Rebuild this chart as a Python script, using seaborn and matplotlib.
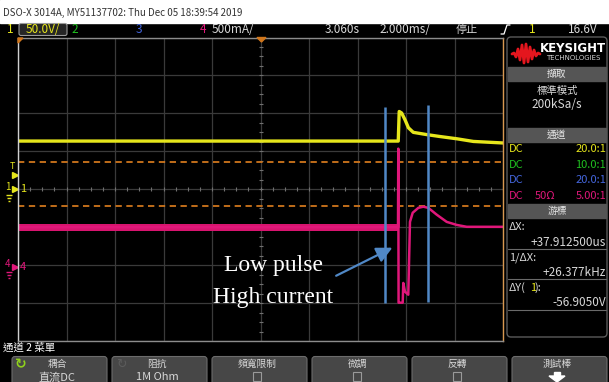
import pandas as pd
import seaborn as sns
import matplotlib.pyplot as plt
from matplotlib.patches import Rectangle, FancyBboxPatch, Polygon

# traces, in divisions (10 x 8 grid, 0 = centre)
ch1_t = [-5.0, 2.84, 2.86, 2.91, 2.98, 3.05, 3.15, 3.43, 3.70, 4.05, 4.39, 5.0]
ch1_v = [1.27, 1.27, 2.05, 2.01, 1.83, 1.62, 1.50, 1.44, 1.39, 1.33, 1.26, 1.22]

ch4_t = [-5.0, 2.835, 2.841, 2.847, 2.876, 2.932, 2.944, 2.979, 3.047, 3.082, 3.138,
         3.254, 3.357, 3.460, 3.633, 3.839, 4.045, 4.252, 5.0]
ch4_v = [-1.0, -1.0, 1.07, -2.99, -2.99, -2.99, -2.47, -2.70, -2.78, -0.86, -0.62,
         -0.49, -0.46, -0.49, -0.67, -0.86, -0.94, -0.99, -0.99]
# noisy band of channel 4 before the pulse
ch4_noise_t = [-5.0, 2.83]
ch4_noise_lo = [-1.09, -1.09]
ch4_noise_hi = [-0.91, -0.91]

cursor_x = [2.57, 3.45]
cursor_top = [2.18, 2.23]
cursor_bottom = [-2.99, -2.97]
trig_levels = [0.71, -0.44]
ground_levels = [0.0, -2.04]
ground_labels = ["1", "4"]

note_lines = ["Low pulse", "High current"]
note_y = [-2.0, -2.85]
note_x = 0.26
arrow_tail = (1.56, -2.28)
arrow_tip = (2.72, -1.54)

title = "DSO-X 3014A, MY51137702: Thu Dec 05 18:39:54 2019"
chan_rows = [("DC", "", "20.0:1"), ("DC", "", "10.0:1"), ("DC", "", "20.0:1"), ("DC", "50Ω", "5.00:1")]
cursor_rows = [("ΔX:", "+37.912500us"), ("1/ΔX:", "+26.377kHz"), ("ΔY(1):", "-56.9050V")]
buttons = [("耦合", "直流DC"), ("阻抗", "1M Ohm"), ("頻寬限制", "box"), ("微調", "box"),
           ("反轉", "box"), ("測試棒", "arrow")]

YEL = "#e6e61c"
GRN = "#20c020"
BLU = "#4466dd"
MAG = "#e0177a"
ORG = "#d0761c"
CUR = "#5088c6"
TXT = "#d8d8d8"
CHC = [YEL, GRN, BLU, MAG]

sns.set_style("darkgrid", {"axes.facecolor": "black", "figure.facecolor": "black",
                           "grid.color": "#3a3a3a"})
plt.rcParams["font.family"] = ["Liberation Sans Narrow", "Noto Sans CJK TC", "DejaVu Sans"]

W, H = 609, 382
fig = plt.figure(figsize=(6.09, 3.82), dpi=100)
ax = fig.add_axes([18 / W, 1 - 341 / H, 485 / W, 303.5 / H], zorder=1)
ui = fig.add_axes([0, 0, 1, 1], zorder=5)
ui.set_xlim(0, W)
ui.set_ylim(H, 0)
ui.set_axis_off()

# ---- graticule
ax.set_xlim(-5, 5)
ax.set_ylim(-4, 4)
ax.set_xticks(range(-5, 6))
ax.set_yticks(range(-4, 5))
ax.tick_params(length=0, labelbottom=False, labelleft=False)
ax.grid(True, color="#3a3a3a", lw=0.9)
for side, c in [("left", "#d0d0d0"), ("right", "#d89850"), ("top", "#8c8c8c"), ("bottom", "#8c8c8c")]:
    ax.spines[side].set_visible(True)
    ax.spines[side].set_color(c)
    ax.spines[side].set_linewidth(1)
mx = [i / 4 for i in range(-20, 21)]
my = [i / 4 for i in range(-16, 17)]
ax.plot(mx, [0] * len(mx), ls="", marker="|", ms=3.5, color="#707070", mew=0.8)
ax.plot([0] * len(my), my, ls="", marker="_", ms=3.5, color="#707070", mew=0.8)

for lv in trig_levels:
    ax.axhline(lv, color=ORG, lw=1.3, dashes=(3.5, 2.5))

# ---- traces
ax.fill_between(ch4_noise_t, ch4_noise_lo, ch4_noise_hi, color="#d8146f", lw=0)
df4 = pd.DataFrame({"t": ch4_t, "v": ch4_v})
sns.lineplot(data=df4, x="t", y="v", ax=ax, color=MAG, lw=1.8, sort=False, estimator=None)
df1 = pd.DataFrame({"t": ch1_t, "v": ch1_v})
sns.lineplot(data=df1, x="t", y="v", ax=ax, color=YEL, lw=2.4, sort=False, estimator=None)
ax.set_xlabel("")
ax.set_ylabel("")

ax.vlines(cursor_x, cursor_bottom, cursor_top, color=CUR, lw=1.8)
ax.annotate("", xy=arrow_tip, xytext=arrow_tail,
            arrowprops=dict(arrowstyle="-|>,head_length=0.95,head_width=0.47", color=CUR,
                            lw=1.6, mutation_scale=10, shrinkA=0, shrinkB=0))
for line, y in zip(note_lines, note_y):
    ax.text(note_x, y, line, ha="center", va="center", color="white", fontsize=17,
            family=["Liberation Serif", "DejaVu Serif"])

# ground / trigger markers at the left edge
yt = ax.get_yaxis_transform()
for lab, lv, c in zip(ground_labels, ground_levels, [YEL, MAG]):
    ax.text(0.0105, lv, lab, transform=yt, color=c, fontsize=8, va="center", ha="center")
    ax.text(-0.021, lv + 0.06, lab, transform=yt, color=c, fontsize=7, va="center", ha="center", clip_on=False)
    ax.plot([-0.0065], [lv], marker=">", ms=4.5, color=c, transform=yt, clip_on=False)
    for k, w in enumerate([5, 3.5, 2]):
        ax.plot([-0.019], [lv - 0.14 - 0.08 * k], marker="_", ms=w, mew=1, color=c,
                transform=yt, clip_on=False)
ax.text(-0.0125, 0.61, "T", transform=yt, color=YEL, fontsize=6.5, va="center", ha="center", clip_on=False)
ax.plot([-0.0065], [0.37], marker=">", ms=4.5, color=YEL, transform=yt, clip_on=False)

# ---- top strip
ui.add_patch(Rectangle((0, 0), W, 22.5, color="white"))
ui.text(3, 13, title, color="#333333", fontsize=7, va="center")
hy = 29.5
ui.add_patch(FancyBboxPatch((19, 23.5), 48, 12, boxstyle="round,pad=0,rounding_size=2",
                            fc="#262626", ec="#9a9a9a", lw=0.8))
ui.text(10, hy, "1", color=YEL, fontsize=8.5, ha="center", va="center")
ui.text(43, hy, "50.0V/", color=YEL, fontsize=8.5, ha="center", va="center")
ui.text(75, hy, "2", color=GRN, fontsize=8.5, ha="center", va="center")
ui.text(139, hy, "3", color=BLU, fontsize=8.5, ha="center", va="center")
ui.text(203, hy, "4", color=MAG, fontsize=8.5, ha="center", va="center")
ui.text(233, hy, "500mA/", color=TXT, fontsize=8.5, ha="center", va="center")
ui.text(342, hy, "3.060s", color=TXT, fontsize=8.5, ha="center", va="center")
ui.text(405, hy, "2.000ms/", color=TXT, fontsize=8.5, ha="center", va="center")
ui.text(467, hy, "停止", color=TXT, fontsize=8, ha="center", va="center")
ui.plot([501, 504, 507, 510], [34, 34, 25, 25], color="white", lw=0.9)
ui.text(532, hy, "1", color=YEL, fontsize=8.5, ha="center", va="center")
ui.text(583, hy, "16.6V", color=TXT, fontsize=8.5, ha="center", va="center")
ui.add_patch(Polygon([(18, 38), (23, 38), (18, 43)], color=ORG))
ui.add_patch(Polygon([(257, 37.5), (266, 37.5), (261.5, 42)], color=ORG))

# ---- right panel
ui.add_patch(FancyBboxPatch((507, 37), 100, 300, boxstyle="round,pad=0,rounding_size=4",
                            fc="black", ec="#5a5a5a", lw=1))
logo_x = [512, 514, 516, 518, 520, 522, 524, 526, 528, 530, 532, 534, 536, 538, 540]
logo_y = [54, 53, 57, 49, 60, 45, 63, 44, 62, 47, 59, 50, 56, 53, 54]
ui.plot(logo_x, logo_y, color="#e4161e", lw=2)
ui.text(573, 48, "KEYSIGHT", color="white", fontsize=8.5, fontweight="bold", ha="center",
        va="center", family=["DejaVu Sans"])
ui.text(573, 58.5, "TECHNOLOGIES", color="#d0d0d0", fontsize=5, ha="center", va="center",
        family=["DejaVu Sans"])
for top, lab in [(67, "擷取"), (128, "通道"), (204, "游標")]:
    ui.add_patch(Rectangle((508, top), 98, 13.5, color="#555555"))
    ui.text(557, top + 6.8, lab, color="#e6e6e6", fontsize=7, ha="center", va="center")
ui.text(557, 91, "標準模式", color=TXT, fontsize=7.5, ha="center", va="center")
ui.text(557, 105, "200kSa/s", color=TXT, fontsize=8.5, ha="center", va="center")
for i, (cpl, imp, ratio) in enumerate(chan_rows):
    y = 149 + 15.7 * i
    ui.text(509, y, cpl, color=CHC[i], fontsize=8, va="center")
    ui.text(545, y, imp, color=CHC[i], fontsize=8, va="center", ha="center")
    ui.text(606, y, ratio, color=CHC[i], fontsize=8, va="center", ha="right")
for i, (lab, val) in enumerate(cursor_rows):
    y = 227 + 30.5 * i
    if lab.startswith("ΔY"):
        ui.text(509, y, "ΔY(", color=TXT, fontsize=8, va="center")
        ui.text(530, y, "1", color=YEL, fontsize=8, va="center")
        ui.text(535, y, "):", color=TXT, fontsize=8, va="center")
    else:
        ui.text(509, y, lab, color=TXT, fontsize=8, va="center")
    ui.text(606, y + 15, val, color=TXT, fontsize=8.5, va="center", ha="right")
    ui.plot([508, 606], [y + 21.5, y + 21.5], color="#6a6a6a", lw=0.8)

# ---- softkey menu
ui.text(3, 348, "通道 2 菜單", color="white", fontsize=7.5, va="center")
for i, (top, bottom) in enumerate(buttons):
    x0 = 12 + 100 * i
    ui.add_patch(FancyBboxPatch((x0, 356.5), 95, 32, boxstyle="round,pad=0,rounding_size=3",
                                fc="#474747", ec="#6c6c6c", lw=0.8))
    cx = x0 + 45
    ui.text(cx, 364, top, color=TXT, fontsize=7, ha="center", va="center")
    if bottom == "box":
        ui.add_patch(Rectangle((cx - 4, 372), 8, 9, fc="none", ec="#9a9a9a", lw=0.8))
    elif bottom == "arrow":
        ui.add_patch(Polygon([(cx - 8, 376), (cx + 8, 376), (cx, 382)], color="white"))
        ui.add_patch(Rectangle((cx - 3, 372), 6, 4.5, color="white"))
    else:
        ui.text(cx, 377.5, bottom, color=TXT, fontsize=8, ha="center", va="center")
ui.text(21, 364, "↻", color="#8fd11c", fontsize=10, fontweight="bold", ha="center", va="center",
        family=["DejaVu Sans"])
ui.text(121, 364, "↻", color="#5c5c5c", fontsize=9, ha="center", va="center", family=["DejaVu Sans"])

fig.savefig("out.png", dpi=100, facecolor="black")
